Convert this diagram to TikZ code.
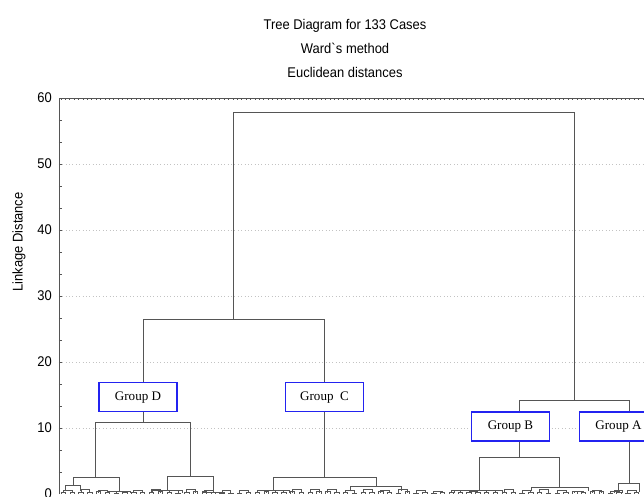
\documentclass[tikz,border=0pt]{standalone}
\usepackage{fontspec}
\setmainfont{Liberation Serif}
\setsansfont{Liberation Sans}[FakeStretch=0.92]
\usetikzlibrary{positioning}

\definecolor{groupblue}{RGB}{35,35,240}
\definecolor{treegray}{RGB}{85,85,85}
\definecolor{gridgray}{RGB}{195,195,195}

\begin{document}
\begin{tikzpicture}[x=0.025cm, y=0.165cm,
    link/.style={treegray, line width=0.7pt},
    twig/.style={treegray, line width=0.45pt},
    frame/.style={treegray, line width=0.6pt},
    gridline/.style={gridgray, dotted, line width=0.4pt},
    sanslabel/.style={font=\sffamily\fontsize{10}{12}\selectfont, inner sep=0pt},
    titleline/.style={sanslabel, text height=7pt, text depth=2pt},
    groupbox/.style={draw=groupblue, line width=1.1pt, fill=white,
        font=\rmfamily\fontsize{9.3}{11}\selectfont,
        minimum width=1.95cm, minimum height=0.725cm, inner sep=0pt}]

    \useasboundingbox (-59,-0.303) rectangle (585,74.85);
    \clip (-59,-0.303) rectangle (585,74.85);

    % 1. Titel
    \node[titleline] (title) at (286,70.98) {Tree Diagram for 133 Cases};
    \node[titleline, below=0.27cm of title] (method) {Ward\textasciigrave s method};
    \node[titleline, below=0.27cm of method] (metric) {Euclidean distances};

    % 2. Gitterlinien und Achsen
    \foreach \g in {10,20,...,50}
        \draw[gridline] (0,\g) -- (585,\g);
    \draw[frame] (0,0) -- (0,60) -- (600,60);
    \foreach \k in {0,...,133}
        \draw[frame] ({2+4.41*\k},60) -- ++(0,-0.35);
    \foreach \t in {1,...,17}
        \draw[frame] (0,{\t*10/3}) -- ++(3,0);
    \foreach \v in {0,10,...,60}
        \node[sanslabel, anchor=east] (tick\v) at (-7,\v) {\v};
    \node[sanslabel, rotate=90] (ylabel) at (-40,38.2) {Linkage Distance};

    % 3. Kleine Cluster am Boden
    \pgfmathsetseed{133}
    \foreach \k in {0,2,...,130}{
        \pgfmathsetmacro{\xa}{2+4.41*\k}
        \pgfmathsetmacro{\xb}{\xa+4.41}
        \pgfmathsetmacro{\h}{0.12+0.3*rnd}
        \draw[twig] (\xa,0) |- (\xb,\h) -- (\xb,0);
    }
    \foreach \k in {0,4,...,128}{
        \pgfmathsetmacro{\xa}{2+4.41*(\k+0.5)}
        \pgfmathsetmacro{\xb}{\xa+8.82}
        \pgfmathsetmacro{\h}{0.45+0.35*rnd}
        \draw[twig] (\xa,0.2) |- (\xb,\h) -- (\xb,0.2);
    }

    % 4. Hauptbaum
    \draw[link] (174,26.5) |- (515,57.88) -- (515,14.24);
    \draw[link] (84,10.9) |- (265,26.5) -- (265,2.58);
    \draw[link] (460,5.6) |- (570,14.24) -- (570,1.67);
    % Gruppe D
    \draw[link] (36,2.58) |- (131,10.9) -- (131,2.73);
    \draw[link] (14,1.36) |- (60,2.58) -- (60,0.45);
    \draw[link] (6,0.4) |- (21,1.36) -- (21,0.4);
    \draw[link] (49,0.2) |- (71,0.45) -- (71,0.2);
    \draw[link] (108,0.6) |- (154,2.73) -- (154,0.3);
    \draw[link] (93,0.2) |- (123,0.6) -- (123,0.2);
    \draw[link] (143,0.1) |- (165,0.3) -- (165,0.1);
    % Gruppe C
    \draw[link] (214,0.6) |- (317,2.58) -- (317,1.2);
    \draw[link] (198,0.2) |- (230,0.6) -- (230,0.2);
    \draw[link] (291,0.4) |- (342,1.2) -- (342,0.4);
    % Gruppe B
    \draw[link] (420,0.6) |- (500,5.6) -- (500,1.06);
    \draw[link] (395,0.2) |- (443,0.6) -- (443,0.2);
    \draw[link] (472,0.4) |- (529,1.06) -- (529,0.4);
    % Gruppe A
    \draw[link] (559,0.6) |- (580,1.67) -- (580,0.3);
    \draw[link] (555,0.2) |- (563,0.6) -- (563,0.2);

    % 5. Gruppenkaesten
    \node[groupbox] (groupD) at (79,14.7) {Group D};
    \node[groupbox] (groupC) at (265.5,14.7) {Group\ \ C};
    \node[groupbox] (groupB) at (451.5,10.23) {Group B};
    \node[groupbox] (groupA) at (559.5,10.23) {Group A};

\end{tikzpicture}
\end{document}
